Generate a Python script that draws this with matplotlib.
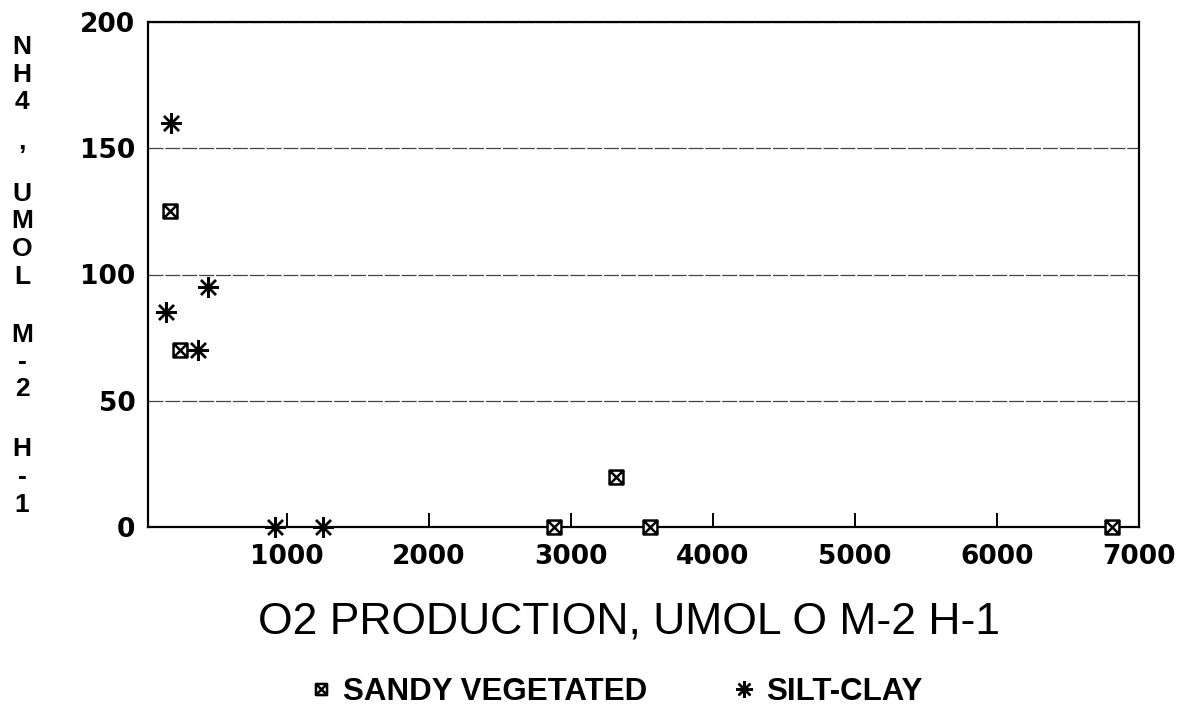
import numpy as np
import matplotlib
matplotlib.use("Agg")
import matplotlib.pyplot as plt
from matplotlib.path import Path

# data
sandy_x = [180, 250, 3320, 2880, 3560, 6810]
sandy_y = [125, 70, 20, 0, 0, 0]
silt_x = [190, 450, 150, 375, 920, 1255]
silt_y = [160, 95, 85, 70, 0, 0]

x_ticks = [1000, 2000, 3000, 4000, 5000, 6000, 7000]
y_ticks = [0, 50, 100, 150, 200]
ylabel_groups = ["NH4", ",", "UMOL", "M-2", "H-1"]

# boxed-x marker
box_x = Path(
    [(-1, -1), (1, -1), (1, 1), (-1, 1), (-1, -1),
     (-1, -1), (1, 1), (-1, 1), (1, -1)],
    [Path.MOVETO, Path.LINETO, Path.LINETO, Path.LINETO, Path.CLOSEPOLY,
     Path.MOVETO, Path.LINETO, Path.MOVETO, Path.LINETO])
star = (8, 2, 0)

fig = plt.figure(figsize=(11.82, 7.15), dpi=100)
ax = fig.add_axes([148 / 1182, 1 - 527 / 715, (1139 - 148) / 1182, (527 - 22) / 715])

ax.plot(sandy_x, sandy_y, linestyle="none", marker=box_x, markersize=10,
        markerfacecolor="white", markeredgecolor="black", markeredgewidth=1.8,
        clip_on=False, zorder=5, label="SANDY VEGETATED")
ax.plot(silt_x, silt_y, linestyle="none", marker=star, markersize=15,
        markeredgecolor="black", markeredgewidth=1.7,
        clip_on=False, zorder=5, label="SILT-CLAY")

ax.set_xlim(25, 7000)
ax.set_ylim(0, 200)
ax.set_xticks(x_ticks)
ax.set_yticks(y_ticks)
ax.yaxis.grid(True, color="#444444", linewidth=0.9, linestyle=(0, (12, 1.5)))
ax.set_axisbelow(True)
for s in ax.spines.values():
    s.set_linewidth(1.6)

ax.tick_params(axis="x", direction="in", length=10, width=1.4, pad=12)
ax.tick_params(axis="y", length=0, pad=9)
for lab in ax.get_xticklabels() + ax.get_yticklabels():
    lab.set_fontfamily("DejaVu Sans")
    lab.set_fontweight("bold")
    lab.set_fontsize(19)

ax.set_xlabel("O2 PRODUCTION, UMOL O M-2 H-1", family="Liberation Sans",
              fontsize=32)
ax.xaxis.set_label_coords((629 - 148) / 991, (527 - 622) / 505)
ax.xaxis.label.set_va("center")

# stacked vertical y label, one character per line
y_px = 47
for g_i, grp in enumerate(ylabel_groups):
    if g_i > 0:
        y_px += [0, 40, 52, 58, 60][g_i] - 27.5
    for ch in grp:
        fig.text(22 / 1182, 1 - y_px / 715, ch, ha="center", va="center",
                 family=["Liberation Sans", "DejaVu Sans"], weight="bold",
                 fontsize=19)
        y_px += 27.5

fig.legend(loc="center left", bbox_to_anchor=(312 / 1182, 1 - 692 / 715),
           ncol=2, frameon=False, borderpad=0, borderaxespad=0,
           markerscale=0.8, handlelength=0.6, handletextpad=0.4,
           columnspacing=2.8,
           prop=dict(family="Liberation Sans", weight="bold", size=22.5))

fig.savefig("out.png", dpi=100)
